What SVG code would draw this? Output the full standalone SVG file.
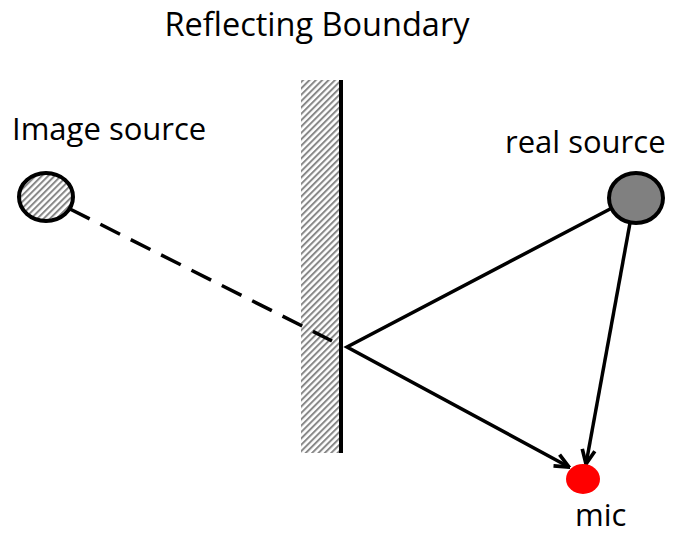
<svg xmlns="http://www.w3.org/2000/svg" width="673" height="535" viewBox="0 0 673 535">
<style>
.t{font-family:"Open Sans","Liberation Sans",sans-serif;font-size:31px;fill:#000}
.ln{stroke:#000;stroke-width:3.5;fill:none}
</style>
<defs>
<pattern id="hatch" patternUnits="userSpaceOnUse" width="4.5" height="4.5" patternTransform="rotate(45)">
<rect width="4.5" height="4.5" fill="#fff"/>
<rect width="2" height="4.5" fill="#888"/>
</pattern>
<marker id="arr" viewBox="0 0 12 12" refX="11" refY="6" markerWidth="17" markerHeight="17" markerUnits="userSpaceOnUse" orient="auto">
<path d="M1,1.5 L11,6 L1,10.5" fill="none" stroke="#000" stroke-width="2.6"/>
</marker>
</defs>
<rect width="673" height="535" fill="#fff"/>
<text class="t" x="317" y="36" text-anchor="middle" style="font-size:32.5px">Reflecting Boundary</text>
<g id="wall">
<rect x="301" y="80" width="39" height="373" fill="url(#hatch)"/>
<line x1="341" y1="80" x2="341" y2="453" stroke="#000" stroke-width="4"/>
</g>
<g id="connectors">
<line class="ln" x1="70" y1="209" x2="332" y2="341" stroke-dasharray="22,12"/>
<polyline class="ln" points="612,208 347,347 569,467" marker-end="url(#arr)"/>
<line class="ln" x1="630" y1="223" x2="586" y2="464" marker-end="url(#arr)"/>
</g>
<g id="image-source">
<ellipse cx="46" cy="197" rx="27" ry="24" fill="url(#hatch)" stroke="#000" stroke-width="4"/>
<text class="t" x="12" y="140">Image source</text>
</g>
<g id="real-source">
<ellipse cx="636" cy="198" rx="27" ry="25" fill="#808080" stroke="#000" stroke-width="4"/>
<text class="t" x="505" y="153">real source</text>
</g>
<g id="mic">
<ellipse cx="583" cy="479" rx="17" ry="15" fill="#ff0000"/>
<text class="t" x="575" y="526">mic</text>
</g>
</svg>
